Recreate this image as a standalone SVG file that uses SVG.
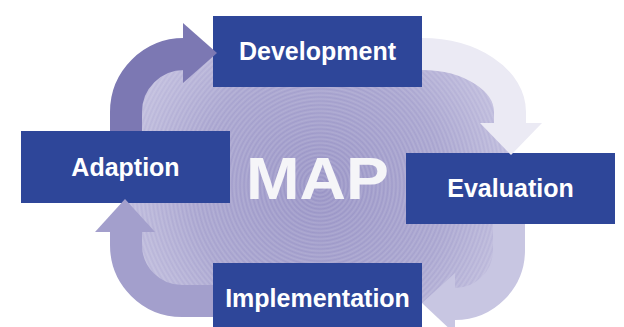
<svg xmlns="http://www.w3.org/2000/svg" width="624" height="327" viewBox="0 0 624 327">
<defs>
<radialGradient id="blobg" cx="320" cy="190" r="230" gradientUnits="userSpaceOnUse">
<stop offset="0" stop-color="#9893c5"/>
<stop offset="0.55" stop-color="#a8a4cf"/>
<stop offset="1" stop-color="#cac7e3"/>
</radialGradient>
<radialGradient id="rings" cx="320" cy="185" r="4" gradientUnits="userSpaceOnUse" spreadMethod="repeat">
<stop offset="0" stop-color="#ffffff" stop-opacity="0"/>
<stop offset="0.5" stop-color="#ffffff" stop-opacity="0.16"/>
<stop offset="1" stop-color="#ffffff" stop-opacity="0"/>
</radialGradient>
<style>
.box{fill:#2e4699}
.lbl{font-family:"Liberation Sans",Arial,sans-serif;font-weight:bold;font-size:25px;fill:#ffffff;text-anchor:middle}
.band{fill:none;stroke-width:32;stroke-linecap:butt}
</style>
</defs>
<rect width="624" height="327" fill="#ffffff"/>
<g id="background">
<rect x="126" y="54" width="384" height="249" rx="60" fill="url(#blobg)"/>
<rect x="126" y="54" width="384" height="249" rx="60" fill="url(#rings)"/>
<text x="317.5" y="199" font-family="'Liberation Sans',Arial,sans-serif" font-weight="bold" font-size="59" textLength="143" lengthAdjust="spacingAndGlyphs" fill="#f5f5f8" text-anchor="middle">MAP</text>
</g>
<g id="node-development">
<rect class="box" x="213" y="16" width="209" height="71"/>
<text class="lbl" x="317.5" y="60">Development</text>
</g>
<g id="node-evaluation">
<rect class="box" x="406" y="153" width="209" height="71"/>
<text class="lbl" x="510.5" y="197">Evaluation</text>
</g>
<g id="node-implementation">
<rect class="box" x="213" y="263" width="209" height="70"/>
<text class="lbl" x="317.5" y="307">Implementation</text>
</g>
<g id="node-adaption">
<rect class="box" x="21" y="131" width="209" height="72"/>
<text class="lbl" x="125.5" y="176">Adaption</text>
</g>
<g id="connectors">
<path class="band" stroke="#7c78b3" d="M126,131 V112 A58,58 0 0 1 184,54 H185"/>
<polygon fill="#7c78b3" points="183,23 217,53 183,83"/>
<path class="band" stroke="#ebeaf4" d="M422,54 A88,58 0 0 1 510,112 V124"/>
<polygon fill="#ebeaf4" points="480,123 542,123 511,155"/>
<path class="band" stroke="#c8c6e2" d="M509,224 V250 A54,54 0 0 1 455,304 H454"/>
<polygon fill="#c8c6e2" points="455,273 422,303 455,334"/>
<path class="band" stroke="#a39fcc" d="M213,301 H182 A56,56 0 0 1 126,245 V232"/>
<polygon fill="#a39fcc" points="95,232 155,232 125,199"/>
</g>
</svg>
